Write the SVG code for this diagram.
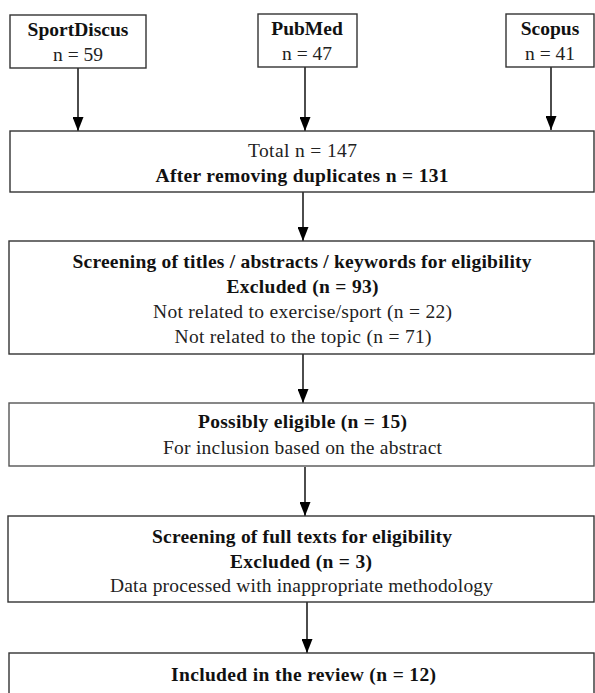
<svg xmlns="http://www.w3.org/2000/svg" width="595" height="693" viewBox="0 0 595 693">
<style>
.box{fill:#fff;stroke:#333;stroke-width:1.4}
text{font-family:"Liberation Serif","Times New Roman",serif;font-size:19.5px;fill:#222;text-anchor:middle}
.b{font-weight:bold;fill:#111}
.c{stroke:#000;stroke-width:1.4;fill:none}
</style>
<defs>
<marker id="ah" markerWidth="14" markerHeight="11" refX="14" refY="5.5" orient="auto" markerUnits="userSpaceOnUse">
<path d="M0,0 L14,5.5 L0,11 Z" fill="#000"/>
</marker>
</defs>
<rect width="595" height="693" fill="#fff"/>
<g id="connectors">
<line class="c" x1="78" y1="68" x2="78" y2="131" marker-end="url(#ah)"/>
<line class="c" x1="305" y1="67" x2="305" y2="131" marker-end="url(#ah)"/>
<line class="c" x1="551" y1="67" x2="551" y2="130" marker-end="url(#ah)"/>
<line class="c" x1="303" y1="192" x2="303" y2="241" marker-end="url(#ah)"/>
<line class="c" x1="303" y1="354" x2="303" y2="403" marker-end="url(#ah)"/>
<line class="c" x1="305" y1="467" x2="305" y2="516" marker-end="url(#ah)"/>
<line class="c" x1="307" y1="602" x2="307" y2="653" marker-end="url(#ah)"/>
</g>
<g id="sportdiscus">
<rect class="box" x="10" y="15" width="136" height="53"/>
<text class="b" x="78" y="36">SportDiscus</text>
<text x="78" y="61">n = 59</text>
</g>
<g id="pubmed">
<rect class="box" x="258" y="14" width="99" height="53"/>
<text class="b" x="307" y="35">PubMed</text>
<text x="307" y="60">n = 47</text>
</g>
<g id="scopus">
<rect class="box" x="506" y="14" width="88" height="53"/>
<text class="b" x="550" y="35">Scopus</text>
<text x="550" y="60">n = 41</text>
</g>
<g id="total">
<rect class="box" x="10" y="131" width="584" height="61"/>
<text x="302.5" y="157" textLength="109" lengthAdjust="spacing">Total n = 147</text>
<text class="b" x="302" y="182" textLength="293" lengthAdjust="spacing">After removing duplicates n = 131</text>
</g>
<g id="screening">
<rect class="box" x="9" y="241" width="585" height="113"/>
<text class="b" x="302" y="268" textLength="459" lengthAdjust="spacing">Screening of titles / abstracts / keywords for eligibility</text>
<text class="b" x="302.5" y="293" textLength="152" lengthAdjust="spacing">Excluded (n = 93)</text>
<text x="302.5" y="318" textLength="299" lengthAdjust="spacing">Not related to exercise/sport (n = 22)</text>
<text x="303" y="343" textLength="257" lengthAdjust="spacing">Not related to the topic (n = 71)</text>
</g>
<g id="possibly">
<rect class="box" x="9" y="403" width="585" height="63" style="stroke:#555"/>
<text class="b" x="302.5" y="428" textLength="209" lengthAdjust="spacing">Possibly eligible (n = 15)</text>
<text x="302.5" y="454" textLength="279" lengthAdjust="spacing">For inclusion based on the abstract</text>
</g>
<g id="fulltext">
<rect class="box" x="8" y="516" width="586" height="86"/>
<text class="b" x="302" y="543" textLength="300" lengthAdjust="spacing">Screening of full texts for eligibility</text>
<text class="b" x="301" y="568" textLength="142" lengthAdjust="spacing">Excluded (n = 3)</text>
<text x="301.5" y="592" textLength="383" lengthAdjust="spacing">Data processed with inappropriate methodology</text>
</g>
<g id="included">
<rect class="box" x="9" y="653" width="585" height="60"/>
<text class="b" x="303.5" y="681" textLength="265" lengthAdjust="spacing">Included in the review (n = 12)</text>
</g>
</svg>
